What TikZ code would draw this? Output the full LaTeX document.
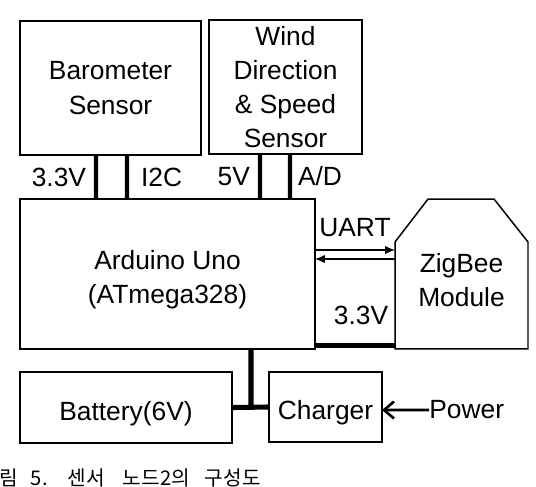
\documentclass[tikz,border=0pt]{standalone}
\usepackage{fontspec}
\setmainfont{Liberation Sans}
\newfontfamily\krfont{Noto Sans CJK KR}
\usetikzlibrary{arrows.meta}

\begin{document}
\begin{tikzpicture}[x=0.02cm,y=-0.02cm,
font=\fontsize{15}{19.5}\selectfont,
box/.style={draw,line width=0.85pt,align=center,inner sep=0pt,outer sep=0pt},
lowtext/.style={label={[lbl,align=center,yshift=-0.12cm]center:#1}},
pin/.style={line width=2.3pt},
bus/.style={line width=2.9pt},
sig/.style={line width=0.75pt,-{Latex[length=0.2cm,width=0.17cm]}},
feed/.style={line width=1.5pt,{Straight Barb[length=0.2cm,width=0.34cm]}-},
lbl/.style={inner sep=0pt}]
\useasboundingbox (0,0) rectangle (536,486);
% sensors
\node[box,minimum width=3.62cm,minimum height=2.68cm] (baro) at (110.5,88) {Barometer\\Sensor};
\node[box,minimum width=3.06cm,minimum height=2.68cm] (wind) at (285.5,87) {Wind\\Direction\\\& Speed\\Sensor};
% controller and radio
\node[box,minimum width=5.9cm,minimum height=3cm,lowtext={Arduino Uno\\(ATmega328)}] (ardu) at (167.5,274) {};
\node[box,draw=none,minimum width=2.66cm,minimum height=3cm,lowtext={ZigBee\\Module}] (zb) at (461.5,274) {};
\draw[line width=0.85pt] (zb.south west) -- ([yshift=-0.86cm]zb.north west) -- ([xshift=0.66cm]zb.north west)
  -- ([xshift=-0.68cm]zb.north east) -- ([yshift=-0.86cm]zb.north east) -- (zb.south east) -- cycle;
% power
\node[box,minimum width=4.24cm,minimum height=1.42cm,lowtext={Battery(6V)}] (batt) at (126,407.5) {};
\node[box,minimum width=2.26cm,minimum height=1.4cm,lowtext={Charger}] (chg) at (325.5,407) {};
\node[lbl,anchor=west] (pwr) at (429,410) {Power};
% sensor lines
\draw[pin] ([xshift=-0.29cm]baro.south) -- ([xshift=-1.43cm]ardu.north) node[lbl,midway,left=0.16cm] {3.3V};
\draw[pin] ([xshift=0.33cm]baro.south) -- ([xshift=-0.81cm]ardu.north) node[lbl,midway,right=0.24cm] {I2C};
\draw[pin] ([xshift=-0.51cm]wind.south) -- ([xshift=1.85cm]ardu.north) node[lbl,midway,left=0.16cm] {5V};
\draw[pin] ([xshift=0.09cm]wind.south) -- ([xshift=2.45cm]ardu.north) node[lbl,midway,right=0.12cm] {A/D};
% serial link and supply
\draw[sig] ([yshift=0.48cm]ardu.east) -- ([yshift=0.48cm]zb.west) node[lbl,midway,above=0.26cm] {UART};
\draw[sig] ([yshift=0.3cm]zb.west) -- ([yshift=0.3cm]ardu.east);
\draw[bus] ([yshift=0.07cm]ardu.south east) -- ([yshift=0.07cm]zb.south west) node[lbl,midway,above=0.37cm,xshift=0.12cm] {3.3V};
\draw[bus] ([xshift=1.67cm]ardu.south) -- ([xshift=0.38cm]batt.east);
\draw[bus] (batt.east) -- (chg.west);
\draw[feed] ([yshift=-0.06cm]chg.east) -- (pwr.west);
% caption
\node[lbl,anchor=base west,font=\krfont\fontsize{11.5}{13}\selectfont] (cap) at (-1,485)
  {림\hspace{0.26cm}5.\hspace{0.4cm}센서\hspace{0.36cm}노드2의\hspace{0.3cm}구성도};
\end{tikzpicture}
\end{document}
